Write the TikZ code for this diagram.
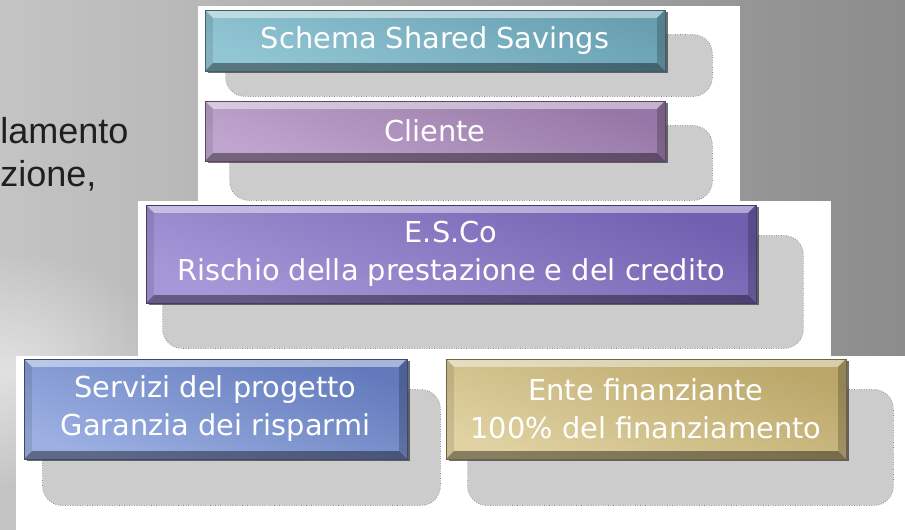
\documentclass[tikz,border=0pt]{standalone}
\usepackage{fontspec}
\usepackage{tikz}
\usetikzlibrary{calc, positioning, shadows, fadings}
\newfontfamily\boxfont{DejaVu Sans}
\newfontfamily\slidefont{Liberation Sans}
\definecolor{bgLight}{RGB}{196,196,196}
\definecolor{bgDark}{RGB}{140,140,140}
\definecolor{SchemaLight}{RGB}{146,198,212}
\definecolor{SchemaDark}{RGB}{104,160,178}
\definecolor{ClienteLight}{RGB}{192,166,206}
\definecolor{ClienteDark}{RGB}{150,118,166}
\definecolor{EscoLight}{RGB}{166,152,216}
\definecolor{EscoDark}{RGB}{112,96,176}
\definecolor{ServiziLight}{RGB}{156,176,226}
\definecolor{ServiziDark}{RGB}{98,122,188}
\definecolor{EnteLight}{RGB}{224,210,162}
\definecolor{EnteDark}{RGB}{186,166,104}
\tikzfading[name=glow, inner color=transparent!0, outer color=transparent!100]
\pgfdeclarelayer{back}
\pgfdeclarelayer{shade}
\pgfsetlayers{back,shade,main}

\begin{document}
\begin{tikzpicture}[
  x=0.02cm, y=-0.02cm,
  bevel/.style={path picture={
    \fill[white, opacity=0.45] (path picture bounding box.north west) -- (path picture bounding box.north east)
      -- ([shift={(-4.5pt,-4.5pt)}]path picture bounding box.north east) -- ([shift={(4.5pt,-4.5pt)}]path picture bounding box.north west) -- cycle;
    \fill[black, opacity=0.4] (path picture bounding box.south west) -- (path picture bounding box.south east)
      -- ([shift={(-4.5pt,4.5pt)}]path picture bounding box.south east) -- ([shift={(4.5pt,4.5pt)}]path picture bounding box.south west) -- cycle;
    \fill[black, opacity=0.2] (path picture bounding box.north east) -- (path picture bounding box.south east)
      -- ([shift={(-4.5pt,4.5pt)}]path picture bounding box.south east) -- ([shift={(-4.5pt,-4.5pt)}]path picture bounding box.north east) -- cycle;
    \fill[black, opacity=0.1] (path picture bounding box.north west) -- (path picture bounding box.south west)
      -- ([shift={(4.5pt,4.5pt)}]path picture bounding box.south west) -- ([shift={(4.5pt,-4.5pt)}]path picture bounding box.north west) -- cycle;
  }},
  smartbox/.style 2 args={rectangle, draw=#2!60!black, line width=0.5pt,
    top color=#2, bottom color=#1, shading angle=-20,
    drop shadow={shadow xshift=1.5pt, shadow yshift=-1pt, opacity=0.7, fill=black!80},
    text=white, align=center, inner sep=0pt,
    font=\boxfont\fontsize{16.4}{21.6}\selectfont, bevel},
  halftone/.style={fill=black!20, draw=black!50, densely dotted, rounded corners=11pt},
  slide/.style={font=\slidefont\fontsize{20.5}{24}\selectfont, text=black!88, inner sep=0pt}
]
\useasboundingbox (0,0) rectangle (905,530);

% boxes
\node[smartbox={SchemaLight}{SchemaDark}, minimum width=9.2cm, minimum height=1.22cm] (schema) at (435,40.5) {Schema Shared Savings};
\node[smartbox={ClienteLight}{ClienteDark}, minimum width=9.2cm, minimum height=1.2cm] (cliente) at (435,131) {Cliente};
\node[smartbox={EscoLight}{EscoDark}, minimum width=12.2cm, minimum height=1.96cm] (esco) at (451,254) {E.S.Co\\Rischio della prestazione e del credito};
\node[smartbox={ServiziLight}{ServiziDark}, minimum width=7.66cm, minimum height=2cm] (servizi) at (215.5,409) {Servizi del progetto\\Garanzia dei risparmi};
\node[smartbox={EnteLight}{EnteDark}, minimum width=8cm, minimum height=2cm] (ente) at (646,409) {Ente finanziante\\100\% del finanziamento};

% slide text behind the diagram
\node[slide, anchor=base west] (frag1) at (0,144) {lamento};
\node[slide, anchor=base west] (frag2) at (0,187) {zione,};

\begin{pgfonlayer}{shade}
\foreach \n/\l/\t/\r/\b in {schema/21/25/47/25, cliente/25/25/47/39, esco/17/31/47/45, servizi/19/31/33/46, ente/22/31/47/46}
  \draw[halftone] ($(\n.north west)+(\l,\t)$) rectangle ($(\n.south east)+(\r,\b)$);
\end{pgfonlayer}

\begin{pgfonlayer}{back}
\fill[left color=bgLight, right color=bgDark] (0,0) rectangle (905,530);
\fill[white, opacity=0.5, path fading=glow] (10,370) ellipse [x radius=160, y radius=120];
\fill[white] (198,6) rectangle (740,201);
\fill[white] (138,201) rectangle (831,356);
\fill[white] (16,356) rectangle (905,530);
\end{pgfonlayer}
\end{tikzpicture}
\end{document}
